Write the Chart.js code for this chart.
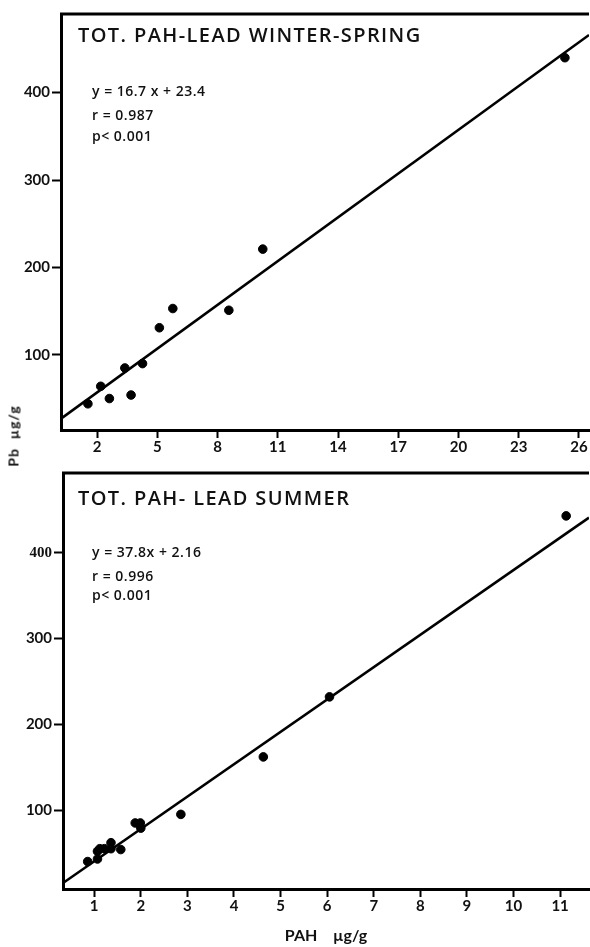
<!DOCTYPE html>
<html>
<head>
<meta charset="utf-8">
<script src="https://cdn.jsdelivr.net/npm/chart.js@4"></script>
<style>
  body { margin:0; background:#fff; width:590px; height:947px; overflow:hidden; position:relative; }
  canvas { position:absolute; left:0; }
  #c1 { top:0; }
  #c2 { top:460px; }
  #ylab { position:absolute; left:13px; top:436px; transform:translate(-50%,-50%) rotate(-90deg);
          font:bold 14px Lato, sans-serif; white-space:pre; color:#111; letter-spacing:1px; }
</style>
</head>
<body>
<canvas id="c1" width="590" height="460"></canvas>
<canvas id="c2" width="590" height="487"></canvas>
<div id="ylab">Pb  µg/g</div>
<script>
// winter-spring
const pahWinter = [1.54, 2.18, 2.61, 3.38, 3.69, 4.26, 5.1, 5.77, 8.56, 10.25, 25.3];
const pbWinter  = [44, 64, 50, 85, 54, 90, 131, 153, 151, 221, 440];
const fitWinterX = [0.2, 26.5];
const fitWinterY = [27, 466];
const xTicksWinter = [2, 5, 8, 11, 14, 17, 20, 23, 26];

// summer
const pahSummer = [0.86, 1.07, 1.07, 1.12, 1.22, 1.36, 1.36, 1.57, 1.88, 1.99, 2.0, 2.86, 4.63, 6.05, 11.13];
const pbSummer  = [40, 43, 52, 55, 55, 62, 55, 54, 85, 85, 79, 95, 162, 232, 443];
const fitSummerX = [0.33, 11.62];
const fitSummerY = [15, 441];
const xTicksSummer = [1, 2, 3, 4, 5, 6, 7, 8, 9, 10, 11];

const yTicks = [100, 200, 300, 400];

const notesWinter = ['TOT. PAH-LEAD WINTER-SPRING', 'y = 16.7 x + 23.4', 'r = 0.987', 'p< 0.001'];
const notesSummer = ['TOT. PAH- LEAD SUMMER', 'y = 37.8x + 2.16', 'r = 0.996', 'p< 0.001'];

const tickFont = {family: 'Lato', size: 15, weight: 'bold'};

// draws the box top line, the title and the regression stats
const notesPlugin = {
  id: 'notes',
  afterDraw(chart, args, opts) {
    const ctx = chart.ctx, a = chart.chartArea;
    ctx.save();
    ctx.strokeStyle = '#000';
    ctx.lineWidth = 3;
    ctx.beginPath();
    ctx.moveTo(a.left - 1, a.top);
    ctx.lineTo(a.right, a.top);
    ctx.stroke();
    ctx.fillStyle = '#111';
    ctx.textBaseline = 'alphabetic';
    ctx.font = '600 20px "Open Sans"';
    ctx.letterSpacing = '1.4px';
    ctx.fillText(opts.lines[0], a.left + opts.titleX, a.top + opts.titleY);
    ctx.font = '600 14px "Open Sans"';
    ctx.letterSpacing = '0.5px';
    for (let i = 1; i < opts.lines.length; i++) {
      ctx.fillText(opts.lines[i], a.left + opts.eqX, a.top + opts.eqY[i - 1]);
    }
    ctx.restore();
  }
};

function makeChart(id, xs, ys, fitX, fitY, xTicks, cfg) {
  const ctx = document.getElementById(id).getContext('2d');
  return new Chart(ctx, {
    type: 'scatter',
    data: {
      datasets: [{
        data: xs.map((x, i) => ({x: x, y: ys[i]})),
        backgroundColor: '#000',
        borderColor: '#000',
        pointRadius: 4.3,
        pointHoverRadius: 4.3
      }, {
        type: 'line',
        data: fitX.map((x, i) => ({x: x, y: fitY[i]})),
        borderColor: '#000',
        borderWidth: 2.6,
        pointRadius: 0,
        fill: false
      }]
    },
    options: {
      responsive: false,
      animation: false,
      events: [],
      layout: {autoPadding: false, padding: {left: 0, top: cfg.top, right: 1, bottom: 0}},
      plugins: {
        legend: {display: false},
        tooltip: {enabled: false},
        notes: cfg.notes
      },
      scales: {
        x: {
          type: 'linear',
          min: cfg.xMin, max: cfg.xMax,
          afterBuildTicks: s => { s.ticks = xTicks.map(v => ({value: v})); },
          afterFit: s => { s.height = cfg.xHeight; s.paddingLeft = 0; s.paddingRight = 0; },
          grid: {drawOnChartArea: false, drawTicks: true, tickLength: 8, tickWidth: 2, tickColor: '#000'},
          border: {display: true, color: '#000', width: 3},
          ticks: {color: '#111', font: tickFont, padding: 0, maxRotation: 0},
          title: cfg.xTitle
        },
        y: {
          min: cfg.yMin, max: cfg.yMax,
          afterBuildTicks: s => { s.ticks = yTicks.map(v => ({value: v})); },
          afterFit: s => { s.width = cfg.yWidth; s.paddingTop = 0; s.paddingBottom = 0; },
          grid: {drawOnChartArea: false, drawTicks: true, tickLength: 9, tickWidth: 2, tickColor: '#000'},
          border: {display: true, color: '#000', width: 3},
          ticks: {color: '#111', font: cfg.yFont || tickFont, padding: 2}
        }
      }
    },
    plugins: [notesPlugin]
  });
}

makeChart('c1', pahWinter, pbWinter, fitWinterX, fitWinterY, xTicksWinter, {
  top: 14, xMin: 0.2, xMax: 26.5, yMin: 14, yMax: 490, xHeight: 30, yWidth: 61,
  xTitle: {display: false},
  notes: {lines: notesWinter, titleX: 17, titleY: 28, eqX: 31, eqY: [82, 106, 127]}
});

makeChart('c2', pahSummer, pbSummer, fitSummerX, fitSummerY, xTicksSummer, {
  top: 13, xMin: 0.33, xMax: 11.62, yMin: 8, yMax: 493, xHeight: 58, yWidth: 63,
  xTitle: {display: true, text: 'PAH    µg/g', color: '#111',
           font: {family: 'Lato', size: 16, weight: 'bold'}, padding: {top: 0, bottom: 2}},
  yFont: c => (c.tick && c.tick.value === 400)
    ? {family: 'Liberation Serif', size: 15, weight: 'bold'} : tickFont,
  notes: {lines: notesSummer, titleX: 15, titleY: 32, eqX: 29, eqY: [84, 108, 127]}
});
</script>
</body>
</html>
